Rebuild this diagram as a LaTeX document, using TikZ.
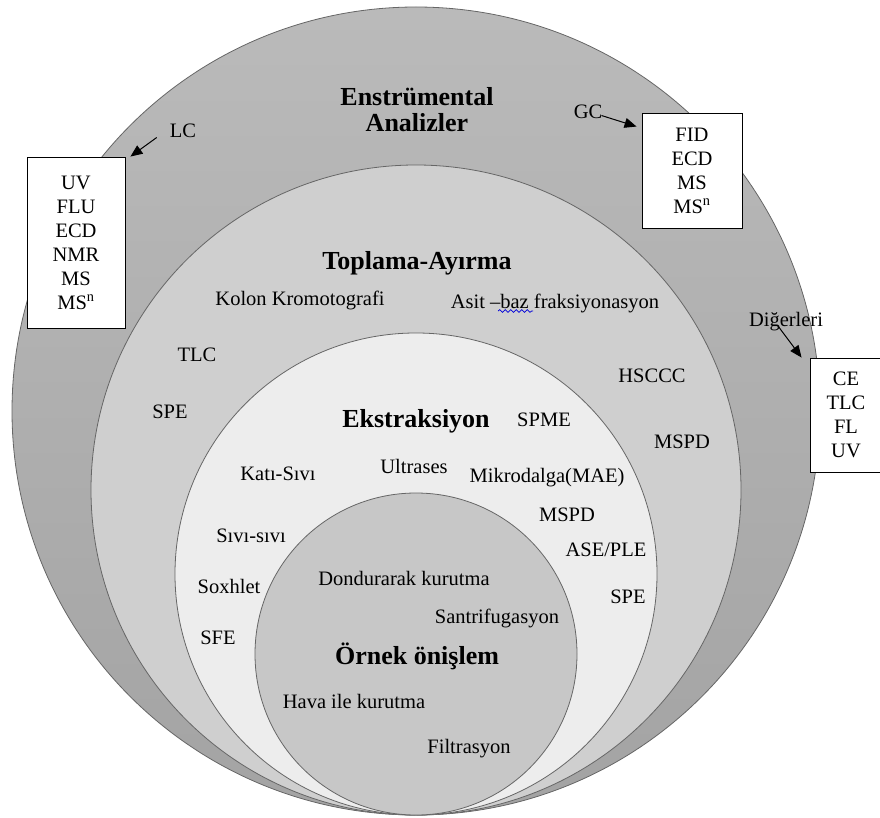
\documentclass[tikz,border=0pt]{standalone}
\usepackage{fontspec}
\setmainfont{Liberation Serif}
\usetikzlibrary{arrows.meta,decorations.pathmorphing}
\begin{document}
\begin{tikzpicture}[x=1pt,y=-1pt,
  ring/.style={draw=black!60,line width=0.8pt},
  lbl/.style={inner sep=1pt,font=\fontsize{20.5}{24}\selectfont,text height=0.66em,text depth=0pt,yshift=-3.5pt},
  ttl/.style={inner sep=1pt,font=\fontsize{26}{30}\selectfont\bfseries,text height=0.66em,text depth=0pt,yshift=-5pt},
  boxn/.style={draw,fill=white,line width=0.9pt,inner sep=0pt,align=center,font=\fontsize{20.5}{24}\selectfont},
  arr/.style={-{Triangle[length=12pt,width=10pt]},line width=1pt}]
\useasboundingbox (0,0) rectangle (880,818);
\clip (0,0) rectangle (880,818);
% circles
\shade[ring,top color=black!27,bottom color=black!36] (416,411) circle (404);
\fill[ring,fill=black!19] (416,490) circle (325);
\fill[ring,fill=black!7] (416,574) circle (241);
\fill[ring,fill=black!22] (416,654) circle (161);
% titles
\node[ttl] (ens) at (417,97) {Enstrümental};
\node[ttl] (ana) at (417,123) {Analizler};
\node[ttl] (top) at (417,261) {Toplama-Ayırma};
\node[ttl] (eks) at (416,419) {Ekstraksiyon};
\node[ttl] (orn) at (417,656) {Örnek önişlem};
% boxes
\node[boxn,minimum width=98pt,minimum height=171pt] (lcbox) at (76,242.5) {UV\\FLU\\ECD\\NMR\\MS\\MS\textsuperscript{n}};
\node[boxn,minimum width=100pt,minimum height=115pt] (gcbox) at (692,170.5) {FID\\ECD\\MS\\MS\textsuperscript{n}};
\node[boxn,minimum width=72pt,minimum height=114pt] (obox) at (846,415) {CE\\TLC\\FL\\UV};
% labels with arrows
\node[lbl] (lc) at (183,131) {LC};
\node[lbl] (gc) at (588,112) {GC};
\node[lbl] (dig) at (786,320) {Diğerleri};
\draw[arr] ([shift={(-12,3)}]lc.west) -- ([xshift=5pt]lcbox.north east);
\draw[arr] ([xshift=-2pt,yshift=0pt]gc.east) -- ([shift={(-5,14)}]gcbox.north west);
\draw[arr] ([xshift=-8pt,yshift=2pt]dig.south) -- ([xshift=-8pt]obox.north west);
% Toplama-Ayirma ring
\node[lbl] (kolon) at (300,299) {Kolon Kromotografi};
\node[lbl] (asit) at (555,302) {Asit –baz fraksiyonasyon};
\draw[blue!85!black,line width=0.7pt,decorate,decoration={snake,amplitude=1.3pt,segment length=5.5pt}] (498,311) -- (533,311);
\node[lbl] (tlc) at (197,355) {TLC};
\node[lbl] (spe1) at (170,412) {SPE};
\node[lbl] (hsccc) at (652,376) {HSCCC};
\node[lbl] (mspd1) at (682,442) {MSPD};
% Ekstraksiyon ring
\node[lbl] (spme) at (544,420) {SPME};
\node[lbl] (kati) at (278,474) {Katı-Sıvı};
\node[lbl] (ultra) at (414,467) {Ultrases};
\node[lbl] (mikro) at (547,476) {Mikrodalga(MAE)};
\node[lbl] (mspd2) at (567,515) {MSPD};
\node[lbl] (sivi) at (251,536) {Sıvı-sıvı};
\node[lbl] (ase) at (606,550) {ASE/PLE};
\node[lbl] (soxh) at (229,587) {Soxhlet};
\node[lbl] (spe2) at (628,597) {SPE};
\node[lbl] (sfe) at (218,638) {SFE};
% Ornek onislem
\node[lbl] (dond) at (404,579) {Dondurarak kurutma};
\node[lbl] (sant) at (497,617) {Santrifugasyon};
\node[lbl] (hava) at (354,702) {Hava ile kurutma};
\node[lbl] (filt) at (469,747) {Filtrasyon};
\end{tikzpicture}
\end{document}
